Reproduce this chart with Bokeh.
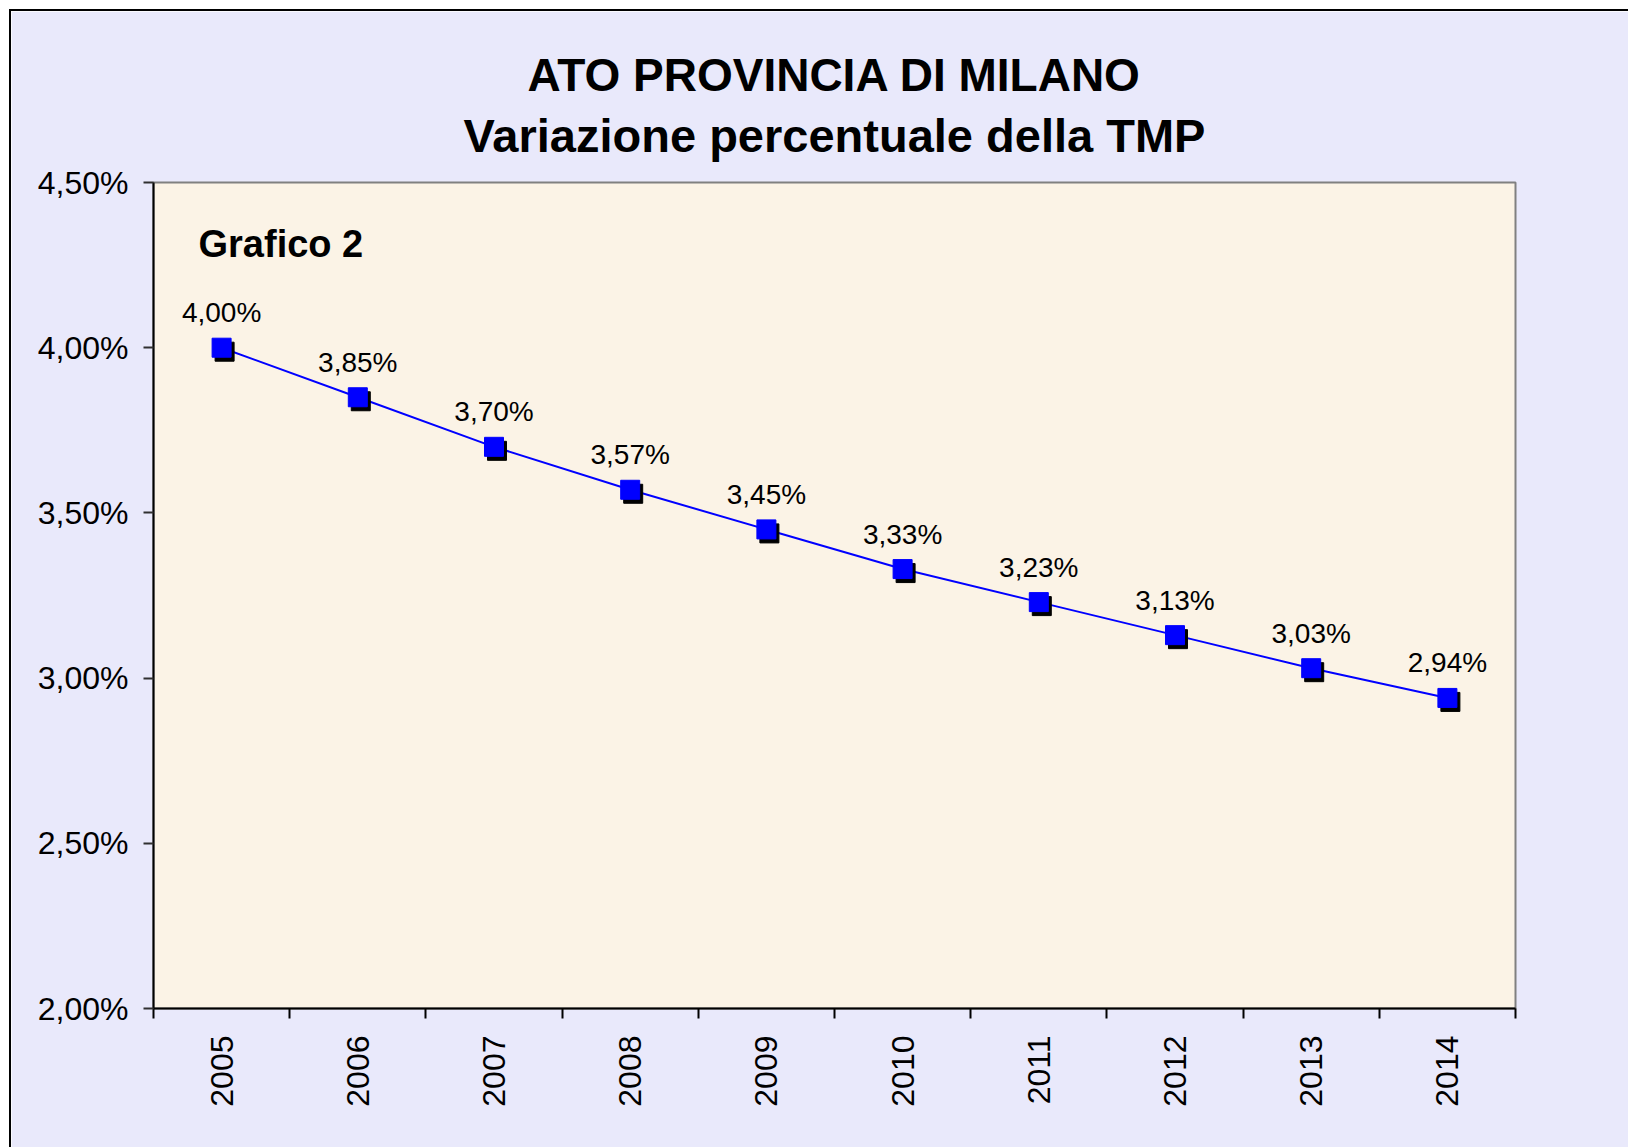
import math
from bokeh.plotting import figure
from bokeh.layouts import column
from bokeh.models import (Range1d, FixedTicker, CustomJSTickFormatter, Label,
                          LinearAxis, ColumnDataSource)
from bokeh.transform import dodge
from bokeh.core.properties import value
from bokeh.embed import file_html
from bokeh.resources import INLINE

# ---- data ----
years = ["2005", "2006", "2007", "2008", "2009", "2010", "2011", "2012", "2013", "2014"]
tmp_pct = [4.00, 3.85, 3.70, 3.57, 3.45, 3.33, 3.23, 3.13, 3.03, 2.94]
y_ticks = [2.0, 2.5, 3.0, 3.5, 4.0, 4.5]
title_lines = ["ATO PROVINCIA DI MILANO", "Variazione percentuale della TMP"]
subtitle = "Grafico 2"

FONT = "Liberation Sans"
OUTER_BG = "#E9E9FB"
PLOT_BG = "#FBF3E6"

ORIGIN = 11          # page position of the chart content (after margin + border)
W = 1628 - ORIGIN
H = 1147 - ORIGIN

xs = [i + 0.5 for i in range(len(years))]
labels = [("%.2f" % v).replace(".", ",") + "%" for v in tmp_pct]
src = ColumnDataSource(dict(x=xs, y=tmp_pct, lab=labels))

p = figure(width=W, height=H, output_backend="svg", toolbar_location=None,
           x_range=Range1d(0, len(years)), y_range=Range1d(y_ticks[0], y_ticks[-1]),
           min_border_left=153 - ORIGIN, min_border_right=1628 - 1515,
           min_border_top=182 - ORIGIN, min_border_bottom=1147 - 1008)
p.background_fill_color = PLOT_BG
p.border_fill_color = OUTER_BG
p.outline_line_color = "#808080"
p.outline_line_width = 2
p.grid.visible = False

xa = p.below[0]
ya = p.left[0]


# title lines: drawn as labels of tick-less axes above the frame (centred, unclipped)
def title_axis(text, standoff, size):
    ax = LinearAxis(ticker=FixedTicker(ticks=[], minor_ticks=[]), axis_label=text)
    ax.axis_line_color = None
    ax.major_tick_out = 0
    ax.major_tick_in = 0
    ax.minor_tick_out = 0
    ax.minor_tick_in = 0
    ax.major_label_text_font_size = "0px"
    ax.axis_label_text_font = FONT
    ax.axis_label_text_font_size = size
    ax.axis_label_text_font_style = "bold"
    ax.axis_label_text_color = "black"
    ax.axis_label_standoff = standoff
    return ax


p.add_layout(title_axis(title_lines[1], 21, "47px"), "above")
p.add_layout(title_axis(title_lines[0], 5, "46px"), "above")

# y axis
ya.ticker = FixedTicker(ticks=y_ticks, minor_ticks=[])
ya.formatter = CustomJSTickFormatter(code="return tick.toFixed(2).replace('.', ',') + '%';")
ya.major_label_text_font = FONT
ya.major_label_text_font_size = "32px"
ya.major_label_text_color = "black"
ya.major_tick_out = 10
ya.major_tick_in = 0
ya.major_tick_line_color = "#303030"
ya.major_tick_line_width = 2
ya.axis_line_color = "black"
ya.axis_line_width = 2
ya.major_label_standoff = 15

# x axis: labels at category centres, ticks at category boundaries
xa.ticker = FixedTicker(ticks=xs, minor_ticks=list(range(len(years) + 1)))
xa.formatter = CustomJSTickFormatter(args=dict(years=years),
                                     code="return years[Math.floor(tick)];")
xa.major_label_orientation = math.pi / 2
xa.major_label_text_font = FONT
xa.major_label_text_font_size = "32px"
xa.major_label_text_color = "black"
xa.major_tick_out = 0
xa.major_tick_in = 0
xa.minor_tick_out = 10
xa.minor_tick_in = 0
xa.minor_tick_line_color = "black"
xa.minor_tick_line_width = 2
xa.axis_line_color = "black"
xa.axis_line_width = 2
xa.major_label_standoff = 17

# series
p.line("x", "y", source=src, line_color="#0000FF", line_width=2)
p.scatter(dodge("x", 0.022, range=p.x_range), dodge("y", -0.0121, range=p.y_range),
          source=src, marker="square", size=19, fill_color="black", line_color="black")
p.scatter("x", "y", source=src, marker="square", size=19,
          fill_color="#0000FF", line_color="#0000FF")
p.text("x", "y", text="lab", source=src, text_align="center",
       text_baseline="alphabetic", y_offset=-35, text_font=value(FONT),
       text_font_size="28px", text_color="black")

p.add_layout(Label(x=0, y=y_ticks[-1], x_offset=45, y_offset=-61,
                   text=subtitle, text_align="left", text_baseline="alphabetic",
                   text_font=FONT, text_font_size="38px", text_font_style="bold",
                   text_color="black"))

layout = column(p, spacing=0, margin=(ORIGIN - 2, 0, 0, ORIGIN - 2),
                styles={"border-left": "2px solid black",
                        "border-top": "2px solid black"})

open("out.html", "w").write(file_html(layout, INLINE))
